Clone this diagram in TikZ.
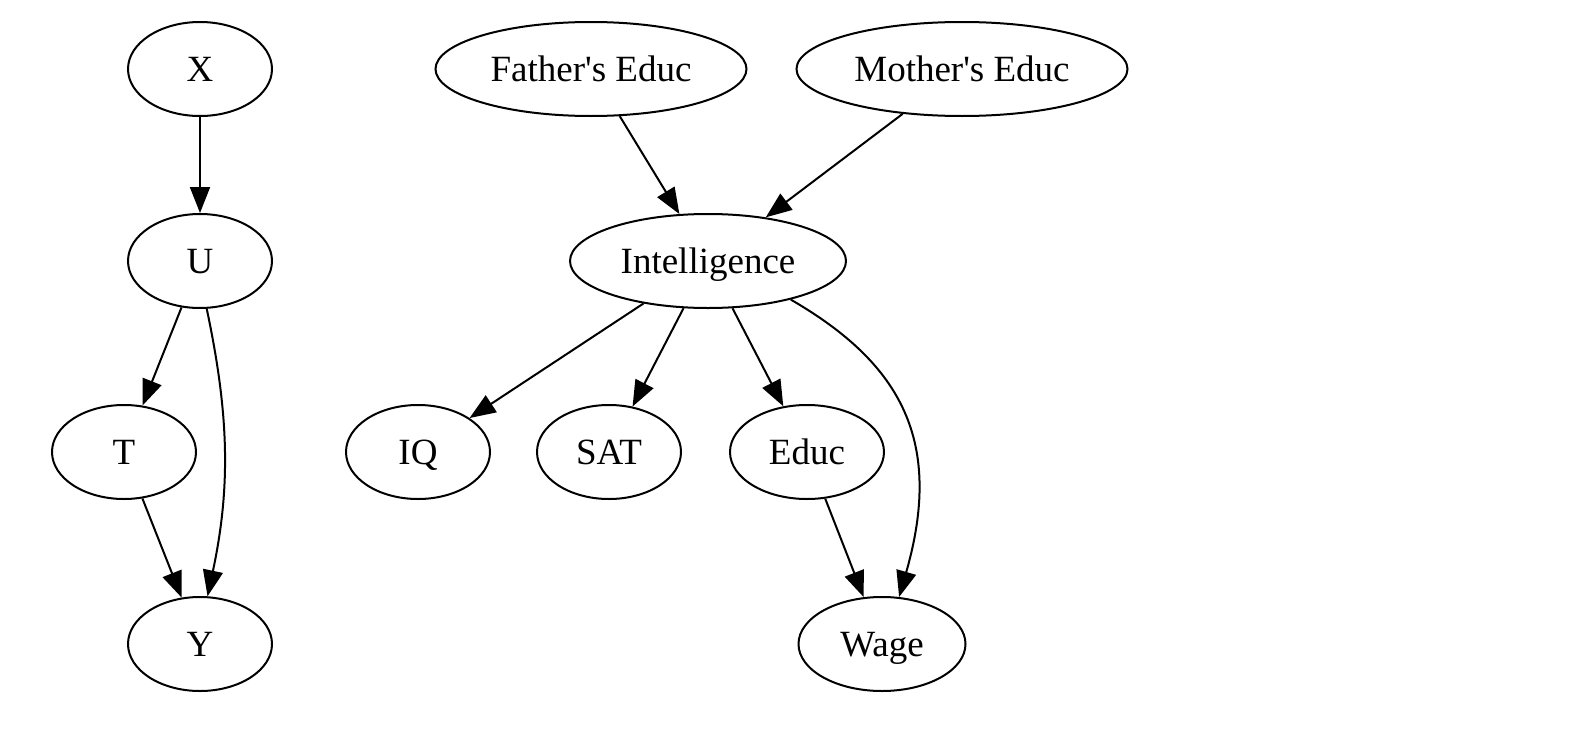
\documentclass[tikz,border=0pt]{standalone}
\usepackage{fontspec}
\setmainfont{Liberation Serif}[Ligatures=TeXOff]
\usetikzlibrary{shapes.geometric,arrows.meta}

\begin{document}
\begin{tikzpicture}[x=0.5pt, y=0.5pt, line width=1pt,
  nodo/.style={draw, ellipse, inner sep=0pt, minimum height=47pt, minimum width=72pt,
    text height=13pt, text depth=0.8pt, font=\fontsize{18.5}{22}\selectfont},
  flecha/.style={-{Triangle[length=13pt,width=10pt]}}]
  \useasboundingbox (0,0) rectangle (1574,752);
  % el grafo de la izquierda
  \node[nodo] (X) at (200,683) {X};
  \node[nodo] (U) at (200,491) {U};
  \node[nodo] (T) at (124,300) {T};
  \node[nodo] (Y) at (200,108) {Y};
  % el grafo de la derecha, de arriba abajo
  \node[nodo, minimum width=155.5pt] (Fat) at (591,683) {Father's Educ};
  \node[nodo, minimum width=165.5pt] (Mot) at (962,683) {Mother's Educ};
  \node[nodo, minimum width=138pt] (Int) at (708,491) {Intelligence};
  \node[nodo] (IQ) at (418,300) {IQ};
  \node[nodo] (SAT) at (609,300) {SAT};
  \node[nodo, minimum width=77pt] (Educ) at (807,300) {Educ};
  \node[nodo, minimum width=83.5pt] (Wage) at (882,108) {Wage};
  % las flechas rectas
  \foreach \a/\b in {X/U,U/T,T/Y,Fat/Int,Mot/Int,Int/IQ,Int/SAT,Int/Educ,Educ/Wage} {
    \draw[flecha] (\a) -- (\b);
  }
  % las dos curvas
  \draw[flecha] (U.-82) .. controls +(-78:110) and +(78:110) .. (Y.81.5);
  \draw[flecha] (Int.-25) .. controls +(-30:130) and +(74:160) .. (Wage.70);
\end{tikzpicture}
\end{document}
